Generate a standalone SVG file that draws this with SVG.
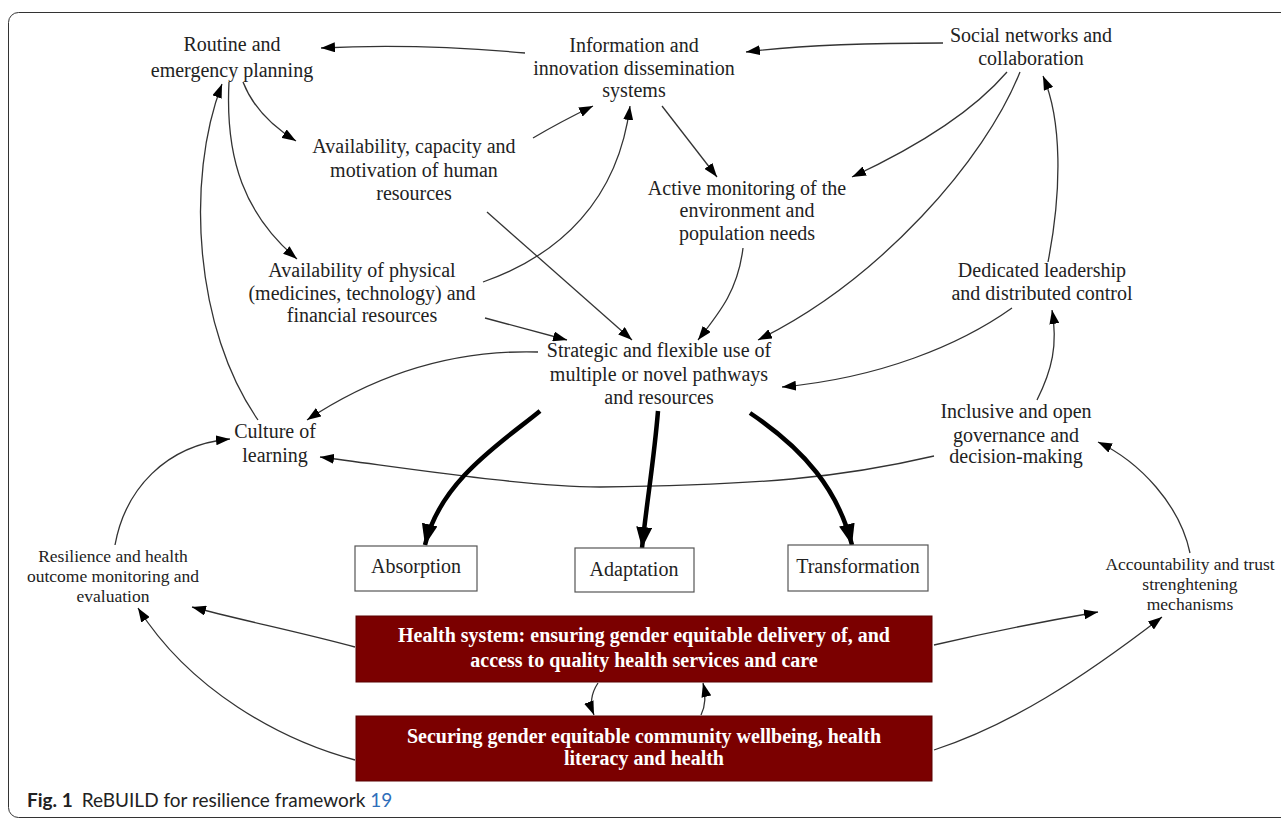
<svg xmlns="http://www.w3.org/2000/svg" width="1281" height="820" viewBox="0 0 1281 820">
<defs>
<style>
.lbl{font-family:"Liberation Serif","Times New Roman",serif;font-size:20px;fill:#222;text-anchor:middle}
.sm{font-size:17.5px}
.bx{fill:#fff;stroke:#555;stroke-width:1.2}
.rd{fill:#7b0000;stroke:#5a0000;stroke-width:1}
.wt{font-family:"Liberation Serif","Times New Roman",serif;font-size:20px;font-weight:bold;fill:#fff;text-anchor:middle}
.c{fill:none;stroke:#333;stroke-width:1.3;marker-end:url(#ah)}
.t{fill:none;stroke:#000;stroke-width:4.5;marker-end:url(#ahb)}
.cap{font-family:Lato,"Open Sans",sans-serif;font-size:19px;fill:#222}
</style>
<marker id="ah" markerUnits="userSpaceOnUse" markerWidth="15" markerHeight="10" refX="14" refY="5" orient="auto">
<path d="M0,0 L14,5 L0,10 Z" fill="#000"/>
</marker>
<marker id="ahb" markerUnits="userSpaceOnUse" markerWidth="22" markerHeight="16" refX="21" refY="8" orient="auto">
<path d="M0,0 L21,8 L0,16 Z" fill="#000"/>
</marker>
</defs>
<rect x="8.5" y="12.5" width="1300" height="805" rx="10" fill="#fff" stroke="#333" stroke-width="1"/>

<g id="connectors">
<path class="c" d="M525,53 C470,48 400,44 321,48"/>
<path class="c" d="M943,43 C870,43 800,45 746,52"/>
<path class="c" d="M533,138 Q560,122 593,106"/>
<path class="c" d="M483,282 C560,255 618,200 630,106"/>
<path class="c" d="M662,106 L717,177"/>
<path class="c" d="M1007,72 C970,115 910,150 852,177"/>
<path class="c" d="M1020,72 C985,160 880,280 758,340"/>
<path class="c" d="M1048,262 C1062,190 1062,120 1043,76"/>
<path class="c" d="M743,248 C738,290 720,312 698,340"/>
<path class="c" d="M1012,308 C960,345 880,378 782,387"/>
<path class="c" d="M1037,400 C1052,370 1058,345 1052,310"/>
<path class="c" d="M487,212 L632,340"/>
<path class="c" d="M485,318 L567,340"/>
<path class="c" d="M538,352 C470,350 390,365 307,420"/>
<path class="c" d="M243,82 C250,100 265,122 296,141"/>
<path class="c" d="M229,82 C225,160 245,215 297,259"/>
<path class="c" d="M258,420 C195,330 185,180 222,84"/>
<path class="c" d="M934,456 C840,478 760,485 600,487 C520,486 420,470 320,457"/>
<path class="c" d="M115,545 C125,490 165,445 230,439"/>
<path class="c" d="M355,647 C300,632 240,620 192,607"/>
<path class="c" d="M355,760 C280,740 190,690 138,608"/>
<path class="c" d="M934,645 C990,632 1040,622 1098,612"/>
<path class="c" d="M934,750 C1010,725 1080,680 1162,617"/>
<path class="c" d="M1190,553 C1180,505 1140,462 1098,442"/>
<path class="c" d="M598,683 C590,695 590,705 594,715"/>
<path class="c" d="M701,715 C706,705 706,695 703,683"/>
<path class="t" d="M540,411 C505,440 440,480 425,545"/>
<path class="t" d="M658,411 C654,460 647,500 642,548"/>
<path class="t" d="M750,413 C805,450 838,490 852,545"/>
</g>

<g id="routine"><text class="lbl" x="232" y="51">Routine and</text><text class="lbl" x="232" y="77">emergency planning</text></g>
<g id="information"><text class="lbl" x="634" y="52">Information and</text><text class="lbl" x="634" y="75">innovation dissemination</text><text class="lbl" x="634" y="97">systems</text></g>
<g id="social"><text class="lbl" x="1031" y="42">Social networks and</text><text class="lbl" x="1031" y="65">collaboration</text></g>
<g id="avcap"><text class="lbl" x="414" y="153">Availability, capacity and</text><text class="lbl" x="414" y="177">motivation of human</text><text class="lbl" x="414" y="200">resources</text></g>
<g id="active"><text class="lbl" x="747" y="195">Active monitoring of the</text><text class="lbl" x="747" y="217">environment and</text><text class="lbl" x="747" y="240">population needs</text></g>
<g id="avphys"><text class="lbl" x="362" y="277">Availability of physical</text><text class="lbl" x="362" y="300">(medicines, technology) and</text><text class="lbl" x="362" y="322">financial resources</text></g>
<g id="dedicated"><text class="lbl" x="1042" y="277">Dedicated leadership</text><text class="lbl" x="1042" y="300">and distributed control</text></g>
<g id="strategic"><text class="lbl" x="659" y="357">Strategic and flexible use of</text><text class="lbl" x="659" y="381">multiple or novel pathways</text><text class="lbl" x="659" y="404">and resources</text></g>
<g id="culture"><text class="lbl" x="275" y="438">Culture of</text><text class="lbl" x="275" y="462">learning</text></g>
<g id="inclusive"><text class="lbl" x="1016" y="418">Inclusive and open</text><text class="lbl" x="1016" y="442">governance and</text><text class="lbl" x="1016" y="463">decision-making</text></g>
<g id="resilience"><text class="lbl sm" x="113" y="562">Resilience and health</text><text class="lbl sm" x="113" y="582">outcome monitoring and</text><text class="lbl sm" x="113" y="602">evaluation</text></g>
<g id="accountability"><text class="lbl sm" x="1190" y="570">Accountability and trust</text><text class="lbl sm" x="1190" y="590">strenghtening</text><text class="lbl sm" x="1190" y="610">mechanisms</text></g>
<g id="absorption"><rect class="bx" x="355" y="546" width="122" height="45"/><text class="lbl" x="416" y="573">Absorption</text></g>
<g id="adaptation"><rect class="bx" x="575" y="548" width="119" height="44"/><text class="lbl" x="634" y="576">Adaptation</text></g>
<g id="transformation"><rect class="bx" x="788" y="545" width="140" height="46"/><text class="lbl" x="858" y="573">Transformation</text></g>
<g id="health"><rect class="rd" x="356" y="616" width="576" height="66"/><text class="wt" x="644" y="642">Health system: ensuring gender equitable delivery of, and</text><text class="wt" x="644" y="667">access to quality health services and care</text></g>
<g id="securing"><rect class="rd" x="356" y="716" width="576" height="65"/><text class="wt" x="644" y="743">Securing gender equitable community wellbeing, health</text><text class="wt" x="644" y="765">literacy and health</text></g>

<g id="caption"><text class="cap" x="27" y="807"><tspan font-weight="bold">Fig. 1</tspan><tspan dx="9">ReBUILD for resilience framework </tspan><tspan fill="#2f6fba">19</tspan></text></g>
</svg>
